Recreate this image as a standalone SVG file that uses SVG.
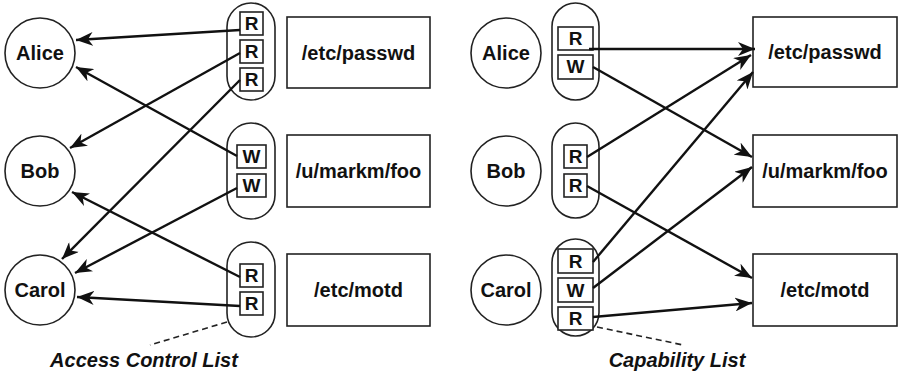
<svg xmlns="http://www.w3.org/2000/svg" width="899" height="373" viewBox="0 0 899 373">
<style>
.bg{fill:#ffffff}
.circ{fill:#ffffff;stroke:#222;stroke-width:1.6}
.pill{fill:#ffffff;stroke:#222;stroke-width:1.6}
.box{fill:#ffffff;stroke:#222;stroke-width:1.6}
.obj{fill:#ffffff;stroke:#222;stroke-width:1.6}
.lbl{font-family:"Liberation Sans",Arial,sans-serif;font-weight:bold;font-size:20px;fill:#111;text-anchor:middle}
.perm{font-family:"Liberation Sans",Arial,sans-serif;font-weight:bold;font-size:19px;fill:#111;text-anchor:middle}
.cap{font-family:"Liberation Sans",Arial,sans-serif;font-weight:bold;font-style:italic;font-size:20px;fill:#111;text-anchor:middle}
.arr{fill:none;stroke:#111;stroke-width:2.4;marker-end:url(#ah)}
.dash{fill:none;stroke:#222;stroke-width:1.6;stroke-dasharray:6 4}
</style>
<defs>
<marker id="ah" markerUnits="userSpaceOnUse" markerWidth="18" markerHeight="14" refX="17" refY="7" orient="auto">
<path d="M0,0 L17,7 L0,14 L5,7 z" fill="#111"/>
</marker>
</defs>
<rect class="bg" x="0" y="0" width="899" height="373"/>

<!-- Left panel: Access Control List -->
<g id="acl-alice"><circle class="circ" cx="40" cy="53" r="35"/><text class="lbl" x="40" y="60">Alice</text></g>
<g id="acl-bob"><circle class="circ" cx="40" cy="171" r="35"/><text class="lbl" x="40" y="178">Bob</text></g>
<g id="acl-carol"><circle class="circ" cx="40" cy="290" r="35"/><text class="lbl" x="40" y="297">Carol</text></g>

<g id="acl-passwd-list">
<rect class="pill" x="227" y="3" width="48" height="97" rx="24" ry="24"/>
<rect class="box" x="240" y="12" width="23" height="23"/><text class="perm" x="251.5" y="30">R</text>
<rect class="box" x="240" y="40" width="23" height="23"/><text class="perm" x="251.5" y="58">R</text>
<rect class="box" x="240" y="68" width="23" height="23"/><text class="perm" x="251.5" y="86">R</text>
</g>
<g id="acl-foo-list">
<rect class="pill" x="227" y="123" width="48" height="96" rx="24" ry="24"/>
<rect class="box" x="237" y="145" width="29" height="23"/><text class="perm" x="251.5" y="163">W</text>
<rect class="box" x="237" y="174" width="29" height="23"/><text class="perm" x="251.5" y="192">W</text>
</g>
<g id="acl-motd-list">
<rect class="pill" x="227" y="242" width="48" height="95" rx="24" ry="24"/>
<rect class="box" x="240" y="264" width="23" height="23"/><text class="perm" x="251.5" y="282">R</text>
<rect class="box" x="240" y="292" width="23" height="23"/><text class="perm" x="251.5" y="310">R</text>
</g>

<g id="acl-passwd"><rect class="obj" x="287" y="17" width="143" height="71"/><text class="lbl" x="358.5" y="60">/etc/passwd</text></g>
<g id="acl-foo"><rect class="obj" x="287" y="135" width="143" height="72"/><text class="lbl" x="358.5" y="178">/u/markm/foo</text></g>
<g id="acl-motd"><rect class="obj" x="287" y="254" width="143" height="72"/><text class="lbl" x="358.5" y="297">/etc/motd</text></g>

<!-- Right panel: Capability List -->
<g id="cap-alice"><circle class="circ" cx="506" cy="53" r="35"/><text class="lbl" x="506" y="60">Alice</text></g>
<g id="cap-bob"><circle class="circ" cx="506" cy="171" r="35"/><text class="lbl" x="506" y="178">Bob</text></g>
<g id="cap-carol"><circle class="circ" cx="506" cy="290" r="35"/><text class="lbl" x="506" y="297">Carol</text></g>

<g id="cap-alice-list">
<rect class="pill" x="552" y="3" width="47" height="97" rx="23.5" ry="23.5"/>
<rect class="box" x="558" y="27" width="35" height="23"/><text class="perm" x="575.5" y="45">R</text>
<rect class="box" x="558" y="55" width="35" height="24"/><text class="perm" x="575.5" y="73">W</text>
</g>
<g id="cap-bob-list">
<rect class="pill" x="552" y="123" width="47" height="95" rx="23.5" ry="23.5"/>
<rect class="box" x="564" y="145" width="23" height="23"/><text class="perm" x="575.5" y="163">R</text>
<rect class="box" x="564" y="174" width="23" height="23"/><text class="perm" x="575.5" y="192">R</text>
</g>
<g id="cap-carol-list">
<rect class="pill" x="552" y="239" width="47" height="97" rx="23.5" ry="23.5"/>
<rect class="box" x="558" y="249" width="35" height="24"/><text class="perm" x="575.5" y="268">R</text>
<rect class="box" x="558" y="278" width="35" height="24"/><text class="perm" x="575.5" y="297">W</text>
<rect class="box" x="558" y="307" width="35" height="23"/><text class="perm" x="575.5" y="325">R</text>
</g>

<g id="cap-passwd"><rect class="obj" x="753" y="17" width="144" height="70"/><text class="lbl" x="825" y="59">/etc/passwd</text></g>
<g id="cap-foo"><rect class="obj" x="753" y="135" width="144" height="72"/><text class="lbl" x="825" y="178">/u/markm/foo</text></g>
<g id="cap-motd"><rect class="obj" x="753" y="254" width="144" height="72"/><text class="lbl" x="825" y="297">/etc/motd</text></g>

<g id="connectors">
<line class="arr" x1="240" y1="30" x2="76" y2="40"/>
<line class="arr" x1="240" y1="53" x2="70" y2="148"/>
<line class="arr" x1="240" y1="80" x2="62" y2="259"/>
<line class="arr" x1="237" y1="156" x2="76" y2="67"/>
<line class="arr" x1="237" y1="188" x2="75" y2="273"/>
<line class="arr" x1="240" y1="277" x2="72" y2="192"/>
<line class="arr" x1="240" y1="306" x2="77" y2="297"/>

<line class="arr" x1="589" y1="49" x2="755" y2="49"/>
<line class="arr" x1="593" y1="67" x2="752" y2="157"/>
<line class="arr" x1="587" y1="157" x2="751" y2="55"/>
<line class="arr" x1="587" y1="186" x2="752" y2="278"/>
<line class="arr" x1="593" y1="262" x2="753" y2="72"/>
<line class="arr" x1="593" y1="288" x2="752" y2="167"/>
<line class="arr" x1="593" y1="317" x2="752" y2="303"/>

<line class="dash" x1="227" y1="322" x2="150" y2="345"/>
<line class="dash" x1="597" y1="327" x2="683" y2="345"/>
</g>

<text class="cap" x="144" y="367">Access Control List</text>
<text class="cap" x="677" y="367">Capability List</text>
</svg>
